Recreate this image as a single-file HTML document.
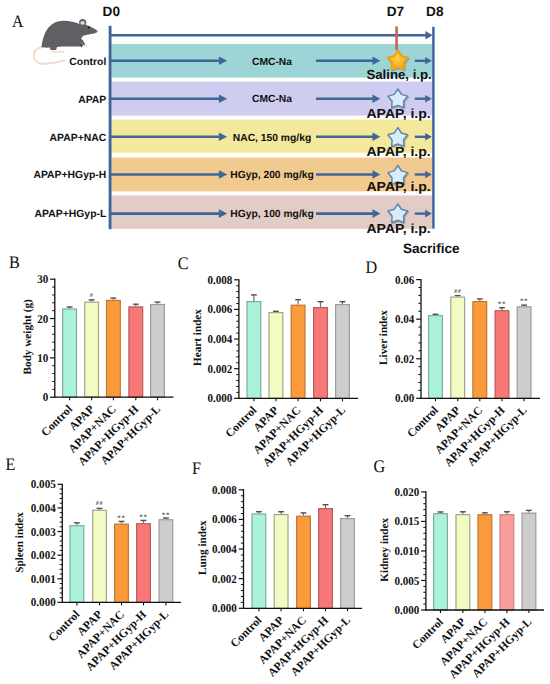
<!DOCTYPE html>
<html><head><meta charset="utf-8"><style>
html,body{margin:0;padding:0;background:#fff;}
svg{display:block;text-rendering:geometricPrecision;}
</style></head><body>
<svg width="550" height="684" viewBox="0 0 550 684">
<defs>
<radialGradient id="gold" cx="0.45" cy="0.4" r="0.65"><stop offset="0" stop-color="#fcd04a"/><stop offset="0.7" stop-color="#f7b126"/><stop offset="1" stop-color="#ee9a1a"/></radialGradient>
<filter id="sh" x="-30%" y="-30%" width="160%" height="160%"><feDropShadow dx="0.6" dy="0.8" stdDeviation="0.6" flood-color="#000" flood-opacity="0.35"/></filter>
</defs>
<rect width="550" height="684" fill="#fff"/>
<text transform="translate(11.9,27.4) scale(0.9,1)" font-family="Liberation Serif, serif" font-size="17.6" fill="#111">A</text>
<rect x="111.4" y="43.9" width="321.1" height="33.699999999999996" fill="#9dd4d6"/>
<rect x="111.4" y="81.5" width="321.1" height="34.099999999999994" fill="#cfcdef"/>
<rect x="111.4" y="119.6" width="321.1" height="33.099999999999994" fill="#f3e89b"/>
<rect x="111.4" y="157.5" width="321.1" height="33.900000000000006" fill="#f0ca8e"/>
<rect x="111.4" y="195.4" width="321.1" height="33.5" fill="#e3cbc6"/>
<line x1="110.1" y1="25.8" x2="110.1" y2="229.2" stroke="#3f6698" stroke-width="2.9"/>
<line x1="433.4" y1="26.8" x2="433.4" y2="228.6" stroke="#3f6698" stroke-width="2.5"/>
<line x1="111" y1="35.3" x2="426.40000000000003" y2="35.3" stroke="#3f6698" stroke-width="2.6"/><polygon points="425.40000000000003,31.099999999999998 432.6,35.3 425.40000000000003,39.5" fill="#3f6698"/>
<line x1="396.6" y1="26.4" x2="396.6" y2="50" stroke="#c8644e" stroke-width="2.6"/>
<g font-family="Liberation Sans, sans-serif" font-weight="bold" font-size="13.6" fill="#111">
<text x="102.6" y="15.6">D0</text><text x="386.8" y="15.9">D7</text><text x="426.1" y="15.9">D8</text>
<text x="402.9" y="252.9">Sacrifice</text>
</g>
<line x1="111" y1="60.8" x2="219.89999999999998" y2="60.8" stroke="#3f6698" stroke-width="2.6"/><polygon points="218.89999999999998,56.5 227.2,60.8 218.89999999999998,65.1" fill="#3f6698"/>
<line x1="316" y1="60.8" x2="373.5" y2="60.8" stroke="#3f6698" stroke-width="2.6"/><polygon points="372.5,56.5 380.3,60.8 372.5,65.1" fill="#3f6698"/>
<line x1="414.8" y1="60.8" x2="426.2" y2="60.8" stroke="#3f6698" stroke-width="2.4"/><polygon points="425.2,57.0 431.8,60.8 425.2,64.6" fill="#3f6698"/>
<text x="272" y="64.5" text-anchor="middle" font-family="Liberation Sans, sans-serif" font-weight="bold" font-size="10.3" fill="#111">CMC-Na</text>
<text x="106.3" y="64.6" text-anchor="end" font-family="Liberation Sans, sans-serif" font-weight="bold" font-size="10.4" fill="#111">Control</text>
<path d="M397.80,50.60 L401.37,55.99 L407.60,57.72 L403.57,62.78 L403.86,69.24 L397.80,66.97 L391.74,69.24 L392.03,62.78 L388.00,57.72 L394.23,55.99 Z" fill="url(#gold)" stroke="#eea21c" stroke-width="2.2" stroke-linejoin="round" filter="url(#sh)"/>
<text x="366.4" y="78.8" textLength="65.4" lengthAdjust="spacingAndGlyphs" font-family="Liberation Sans, sans-serif" font-weight="bold" font-size="13.2" fill="#111">Saline, i.p.</text>
<line x1="111" y1="98.7" x2="219.89999999999998" y2="98.7" stroke="#3f6698" stroke-width="2.6"/><polygon points="218.89999999999998,94.4 227.2,98.7 218.89999999999998,103.0" fill="#3f6698"/>
<line x1="316" y1="98.7" x2="373.5" y2="98.7" stroke="#3f6698" stroke-width="2.6"/><polygon points="372.5,94.4 380.3,98.7 372.5,103.0" fill="#3f6698"/>
<line x1="414.8" y1="98.7" x2="426.2" y2="98.7" stroke="#3f6698" stroke-width="2.4"/><polygon points="425.2,94.9 431.8,98.7 425.2,102.5" fill="#3f6698"/>
<text x="272" y="102.4" text-anchor="middle" font-family="Liberation Sans, sans-serif" font-weight="bold" font-size="10.3" fill="#111">CMC-Na</text>
<text x="106.3" y="102.5" text-anchor="end" font-family="Liberation Sans, sans-serif" font-weight="bold" font-size="10.4" fill="#111">APAP</text>
<path d="M397.80,89.00 L401.37,94.39 L407.60,96.12 L403.57,101.18 L403.86,107.64 L397.80,105.37 L391.74,107.64 L392.03,101.18 L388.00,96.12 L394.23,94.39 Z" fill="#d7eef9" stroke="#6487b0" stroke-width="1.5" stroke-linejoin="round" filter="url(#sh)"/>
<text x="366.4" y="117.9" textLength="64.4" lengthAdjust="spacingAndGlyphs" font-family="Liberation Sans, sans-serif" font-weight="bold" font-size="13.2" fill="#111">APAP, i.p.</text>
<line x1="111" y1="136.8" x2="219.89999999999998" y2="136.8" stroke="#3f6698" stroke-width="2.6"/><polygon points="218.89999999999998,132.5 227.2,136.8 218.89999999999998,141.10000000000002" fill="#3f6698"/>
<line x1="316" y1="136.8" x2="373.5" y2="136.8" stroke="#3f6698" stroke-width="2.6"/><polygon points="372.5,132.5 380.3,136.8 372.5,141.10000000000002" fill="#3f6698"/>
<line x1="414.8" y1="136.8" x2="426.2" y2="136.8" stroke="#3f6698" stroke-width="2.4"/><polygon points="425.2,133.0 431.8,136.8 425.2,140.60000000000002" fill="#3f6698"/>
<text x="272" y="140.5" text-anchor="middle" font-family="Liberation Sans, sans-serif" font-weight="bold" font-size="10.3" fill="#111">NAC, 150 mg/kg</text>
<text x="106.3" y="140.60000000000002" text-anchor="end" font-family="Liberation Sans, sans-serif" font-weight="bold" font-size="10.4" fill="#111">APAP+NAC</text>
<path d="M397.80,127.70 L401.37,133.09 L407.60,134.82 L403.57,139.88 L403.86,146.34 L397.80,144.07 L391.74,146.34 L392.03,139.88 L388.00,134.82 L394.23,133.09 Z" fill="#d7eef9" stroke="#6487b0" stroke-width="1.5" stroke-linejoin="round" filter="url(#sh)"/>
<text x="366.4" y="156.4" textLength="64.4" lengthAdjust="spacingAndGlyphs" font-family="Liberation Sans, sans-serif" font-weight="bold" font-size="13.2" fill="#111">APAP, i.p.</text>
<line x1="111" y1="174.5" x2="219.89999999999998" y2="174.5" stroke="#3f6698" stroke-width="2.6"/><polygon points="218.89999999999998,170.2 227.2,174.5 218.89999999999998,178.8" fill="#3f6698"/>
<line x1="316" y1="174.5" x2="373.5" y2="174.5" stroke="#3f6698" stroke-width="2.6"/><polygon points="372.5,170.2 380.3,174.5 372.5,178.8" fill="#3f6698"/>
<line x1="414.8" y1="174.5" x2="426.2" y2="174.5" stroke="#3f6698" stroke-width="2.4"/><polygon points="425.2,170.7 431.8,174.5 425.2,178.3" fill="#3f6698"/>
<text x="272" y="178.2" text-anchor="middle" font-family="Liberation Sans, sans-serif" font-weight="bold" font-size="10.3" fill="#111">HGyp, 200 mg/kg</text>
<text x="106.3" y="178.3" text-anchor="end" font-family="Liberation Sans, sans-serif" font-weight="bold" font-size="10.4" fill="#111">APAP+HGyp-H</text>
<path d="M397.80,165.50 L401.37,170.89 L407.60,172.62 L403.57,177.68 L403.86,184.14 L397.80,181.87 L391.74,184.14 L392.03,177.68 L388.00,172.62 L394.23,170.89 Z" fill="#d7eef9" stroke="#6487b0" stroke-width="1.5" stroke-linejoin="round" filter="url(#sh)"/>
<text x="366.4" y="191.2" textLength="64.4" lengthAdjust="spacingAndGlyphs" font-family="Liberation Sans, sans-serif" font-weight="bold" font-size="13.2" fill="#111">APAP, i.p.</text>
<line x1="111" y1="213.6" x2="219.89999999999998" y2="213.6" stroke="#3f6698" stroke-width="2.6"/><polygon points="218.89999999999998,209.29999999999998 227.2,213.6 218.89999999999998,217.9" fill="#3f6698"/>
<line x1="316" y1="213.6" x2="373.5" y2="213.6" stroke="#3f6698" stroke-width="2.6"/><polygon points="372.5,209.29999999999998 380.3,213.6 372.5,217.9" fill="#3f6698"/>
<line x1="414.8" y1="213.6" x2="426.2" y2="213.6" stroke="#3f6698" stroke-width="2.4"/><polygon points="425.2,209.79999999999998 431.8,213.6 425.2,217.4" fill="#3f6698"/>
<text x="272" y="217.29999999999998" text-anchor="middle" font-family="Liberation Sans, sans-serif" font-weight="bold" font-size="10.3" fill="#111">HGyp, 100 mg/kg</text>
<text x="106.3" y="217.4" text-anchor="end" font-family="Liberation Sans, sans-serif" font-weight="bold" font-size="10.4" fill="#111">APAP+HGyp-L</text>
<path d="M397.80,203.90 L401.37,209.29 L407.60,211.02 L403.57,216.08 L403.86,222.54 L397.80,220.27 L391.74,222.54 L392.03,216.08 L388.00,211.02 L394.23,209.29 Z" fill="#d7eef9" stroke="#6487b0" stroke-width="1.5" stroke-linejoin="round" filter="url(#sh)"/>
<text x="366.4" y="233.2" textLength="64.4" lengthAdjust="spacingAndGlyphs" font-family="Liberation Sans, sans-serif" font-weight="bold" font-size="13.2" fill="#111">APAP, i.p.</text>
<path d="M42,47.3 C36,48.4 33.6,52 33.8,56 C34,60.5 37.5,63.6 42,63.8 C50,64 57,62 64.8,60.6" fill="none" stroke="#f4dccd" stroke-width="2" stroke-linecap="round"/>
<path d="M52.2,51.7 L63.6,51.9" fill="none" stroke="#f4dccd" stroke-width="1.7" stroke-linecap="round"/>
<circle cx="82.7" cy="22.5" r="3.6" fill="#5f6063"/>
<path d="M41.5,47.2 C42.3,40.5 44,33 48.5,27.5 C52,23.3 57,21 63,20.8 C69,20.7 75,22 80,24.2 C83,24.8 86,24.4 88,25.6 C91.5,27.2 95.5,29.2 97.8,31 C97.5,32.3 96.5,32.8 95,33.2 C92,34 88,34.5 85,35.2 C83,35.8 81.8,37 81.3,38.8 C81,40.5 81.5,42 82.5,43.5 L84,45 L82,46.6 C78,46.3 70,46.3 62,46.6 L57,47 L56.2,49.9 L50.4,49.9 L50,47.6 C47,47.8 44,47.6 41.5,47.2 Z" fill="#5f6063"/>
<path d="M81.4,40 L84.3,44.2" stroke="#3f4042" stroke-width="1.4" stroke-linecap="round"/>
<path d="M80.6,44.8 L81.6,46.6" stroke="#3f4042" stroke-width="1.2" stroke-linecap="round"/>
<ellipse cx="85.7" cy="46.1" rx="1.5" ry="1.4" fill="#f3ddd0"/>
<ellipse cx="82.6" cy="22.8" rx="2.2" ry="1.9" fill="#ead8c9"/>
<ellipse cx="88.8" cy="27.6" rx="0.95" ry="1.05" fill="#1a1a1a"/>
<circle cx="97.6" cy="31.3" r="0.8" fill="#e9cfc6"/>
<text transform="translate(8.9,267.9) scale(0.92,1)" font-family="Liberation Serif, serif" font-size="17.6" fill="#111">B</text>
<line x1="69.60" y1="308.39" x2="69.60" y2="306.69" stroke="#707070" stroke-width="1.2"/>
<line x1="66.70" y1="306.99" x2="72.50" y2="306.99" stroke="#505050" stroke-width="1.4"/>
<rect x="62.70" y="308.99" width="13.80" height="88.21" fill="#abf2dc" stroke="#7eac9c" stroke-width="1.2"/>
<line x1="91.60" y1="301.58" x2="91.60" y2="299.57" stroke="#707070" stroke-width="1.2"/>
<line x1="88.70" y1="299.87" x2="94.50" y2="299.87" stroke="#505050" stroke-width="1.4"/>
<rect x="84.70" y="302.18" width="13.80" height="95.02" fill="#f2fbc2" stroke="#a3a688" stroke-width="1.2"/>
<text x="91.60" y="297.40" text-anchor="middle" font-family="Liberation Serif, serif" font-weight="bold" font-size="6.2" letter-spacing="0.7" fill="#474747">#</text>
<line x1="113.40" y1="299.81" x2="113.40" y2="297.80" stroke="#707070" stroke-width="1.2"/>
<line x1="110.50" y1="298.10" x2="116.30" y2="298.10" stroke="#505050" stroke-width="1.4"/>
<rect x="106.50" y="300.41" width="13.80" height="96.79" fill="#fa9a3a" stroke="#c07832" stroke-width="1.2"/>
<line x1="135.80" y1="306.30" x2="135.80" y2="303.90" stroke="#707070" stroke-width="1.2"/>
<line x1="132.90" y1="304.20" x2="138.70" y2="304.20" stroke="#505050" stroke-width="1.4"/>
<rect x="128.90" y="306.90" width="13.80" height="90.30" fill="#f87777" stroke="#bc5c5c" stroke-width="1.2"/>
<line x1="157.50" y1="303.90" x2="157.50" y2="301.82" stroke="#707070" stroke-width="1.2"/>
<line x1="154.60" y1="302.12" x2="160.40" y2="302.12" stroke="#505050" stroke-width="1.4"/>
<rect x="150.60" y="304.50" width="13.80" height="92.70" fill="#cdcdcd" stroke="#9c9c9c" stroke-width="1.2"/>
<line x1="54.8" y1="278.59999999999997" x2="54.8" y2="397.8" stroke="#111" stroke-width="1.3"/>
<line x1="54.199999999999996" y1="397.2" x2="173.5" y2="397.2" stroke="#111" stroke-width="1.3"/>
<line x1="50.0" y1="397.20" x2="54.8" y2="397.20" stroke="#111" stroke-width="1.2"/>
<text transform="translate(48.20,401.25) scale(0.98,1.05)" text-anchor="end" font-family="Liberation Serif, serif" font-weight="bold" font-size="11.3" fill="#111">0</text>
<line x1="52.199999999999996" y1="389.33" x2="54.8" y2="389.33" stroke="#111" stroke-width="1"/>
<line x1="52.199999999999996" y1="381.47" x2="54.8" y2="381.47" stroke="#111" stroke-width="1"/>
<line x1="52.199999999999996" y1="373.60" x2="54.8" y2="373.60" stroke="#111" stroke-width="1"/>
<line x1="52.199999999999996" y1="365.73" x2="54.8" y2="365.73" stroke="#111" stroke-width="1"/>
<line x1="50.0" y1="357.87" x2="54.8" y2="357.87" stroke="#111" stroke-width="1.2"/>
<text transform="translate(48.20,361.92) scale(0.98,1.05)" text-anchor="end" font-family="Liberation Serif, serif" font-weight="bold" font-size="11.3" fill="#111">10</text>
<line x1="52.199999999999996" y1="350.00" x2="54.8" y2="350.00" stroke="#111" stroke-width="1"/>
<line x1="52.199999999999996" y1="342.13" x2="54.8" y2="342.13" stroke="#111" stroke-width="1"/>
<line x1="52.199999999999996" y1="334.27" x2="54.8" y2="334.27" stroke="#111" stroke-width="1"/>
<line x1="52.199999999999996" y1="326.40" x2="54.8" y2="326.40" stroke="#111" stroke-width="1"/>
<line x1="50.0" y1="318.53" x2="54.8" y2="318.53" stroke="#111" stroke-width="1.2"/>
<text transform="translate(48.20,322.58) scale(0.98,1.05)" text-anchor="end" font-family="Liberation Serif, serif" font-weight="bold" font-size="11.3" fill="#111">20</text>
<line x1="52.199999999999996" y1="310.67" x2="54.8" y2="310.67" stroke="#111" stroke-width="1"/>
<line x1="52.199999999999996" y1="302.80" x2="54.8" y2="302.80" stroke="#111" stroke-width="1"/>
<line x1="52.199999999999996" y1="294.93" x2="54.8" y2="294.93" stroke="#111" stroke-width="1"/>
<line x1="52.199999999999996" y1="287.07" x2="54.8" y2="287.07" stroke="#111" stroke-width="1"/>
<line x1="50.0" y1="279.20" x2="54.8" y2="279.20" stroke="#111" stroke-width="1.2"/>
<text transform="translate(48.20,283.25) scale(0.98,1.05)" text-anchor="end" font-family="Liberation Serif, serif" font-weight="bold" font-size="11.3" fill="#111">30</text>
<line x1="69.60" y1="397.2" x2="69.60" y2="400.2" stroke="#111" stroke-width="1.1"/>
<text transform="translate(73.00,409.80) rotate(-45)" text-anchor="end" font-family="Liberation Serif, serif" font-weight="bold" font-size="11.6" fill="#111">Control</text>
<line x1="91.60" y1="397.2" x2="91.60" y2="400.2" stroke="#111" stroke-width="1.1"/>
<text transform="translate(95.00,409.80) rotate(-45)" text-anchor="end" font-family="Liberation Serif, serif" font-weight="bold" font-size="11.6" fill="#111">APAP</text>
<line x1="113.40" y1="397.2" x2="113.40" y2="400.2" stroke="#111" stroke-width="1.1"/>
<text transform="translate(116.80,409.80) rotate(-45)" text-anchor="end" font-family="Liberation Serif, serif" font-weight="bold" font-size="11.6" fill="#111">APAP+NAC</text>
<line x1="135.80" y1="397.2" x2="135.80" y2="400.2" stroke="#111" stroke-width="1.1"/>
<text transform="translate(139.20,409.80) rotate(-45)" text-anchor="end" font-family="Liberation Serif, serif" font-weight="bold" font-size="11.6" fill="#111">APAP+HGyp-H</text>
<line x1="157.50" y1="397.2" x2="157.50" y2="400.2" stroke="#111" stroke-width="1.1"/>
<text transform="translate(160.90,409.80) rotate(-45)" text-anchor="end" font-family="Liberation Serif, serif" font-weight="bold" font-size="11.6" fill="#111">APAP+HGyp-L</text>
<text transform="translate(31.0,336.8) rotate(-90)" text-anchor="middle" font-family="Liberation Serif, serif" font-weight="bold" font-size="11.2" fill="#111">Body weight (g)</text>
<text transform="translate(177.8,269.0) scale(0.92,1)" font-family="Liberation Serif, serif" font-size="17.6" fill="#111">C</text>
<line x1="253.90" y1="301.00" x2="253.90" y2="294.60" stroke="#707070" stroke-width="1.2"/>
<line x1="251.00" y1="294.90" x2="256.80" y2="294.90" stroke="#505050" stroke-width="1.4"/>
<rect x="247.00" y="301.60" width="13.80" height="96.70" fill="#abf2dc" stroke="#7eac9c" stroke-width="1.2"/>
<line x1="275.90" y1="312.00" x2="275.90" y2="311.00" stroke="#707070" stroke-width="1.2"/>
<line x1="273.00" y1="311.30" x2="278.80" y2="311.30" stroke="#505050" stroke-width="1.4"/>
<rect x="269.00" y="312.60" width="13.80" height="85.70" fill="#f2fbc2" stroke="#a3a688" stroke-width="1.2"/>
<line x1="298.10" y1="304.60" x2="298.10" y2="299.40" stroke="#707070" stroke-width="1.2"/>
<line x1="295.20" y1="299.70" x2="301.00" y2="299.70" stroke="#505050" stroke-width="1.4"/>
<rect x="291.20" y="305.20" width="13.80" height="93.10" fill="#fa9a3a" stroke="#c07832" stroke-width="1.2"/>
<line x1="320.50" y1="307.00" x2="320.50" y2="301.40" stroke="#707070" stroke-width="1.2"/>
<line x1="317.60" y1="301.70" x2="323.40" y2="301.70" stroke="#505050" stroke-width="1.4"/>
<rect x="313.60" y="307.60" width="13.80" height="90.70" fill="#f87777" stroke="#bc5c5c" stroke-width="1.2"/>
<line x1="342.50" y1="304.00" x2="342.50" y2="301.40" stroke="#707070" stroke-width="1.2"/>
<line x1="339.60" y1="301.70" x2="345.40" y2="301.70" stroke="#505050" stroke-width="1.4"/>
<rect x="335.60" y="304.60" width="13.80" height="93.70" fill="#cdcdcd" stroke="#9c9c9c" stroke-width="1.2"/>
<line x1="238.9" y1="279.2" x2="238.9" y2="398.90000000000003" stroke="#111" stroke-width="1.3"/>
<line x1="238.3" y1="398.3" x2="358" y2="398.3" stroke="#111" stroke-width="1.3"/>
<line x1="234.1" y1="398.30" x2="238.9" y2="398.30" stroke="#111" stroke-width="1.2"/>
<text transform="translate(232.30,402.35) scale(0.98,1.05)" text-anchor="end" font-family="Liberation Serif, serif" font-weight="bold" font-size="11.3" fill="#111">0.000</text>
<line x1="236.3" y1="392.38" x2="238.9" y2="392.38" stroke="#111" stroke-width="1"/>
<line x1="236.3" y1="386.45" x2="238.9" y2="386.45" stroke="#111" stroke-width="1"/>
<line x1="236.3" y1="380.53" x2="238.9" y2="380.53" stroke="#111" stroke-width="1"/>
<line x1="236.3" y1="374.60" x2="238.9" y2="374.60" stroke="#111" stroke-width="1"/>
<line x1="234.1" y1="368.68" x2="238.9" y2="368.68" stroke="#111" stroke-width="1.2"/>
<text transform="translate(232.30,372.73) scale(0.98,1.05)" text-anchor="end" font-family="Liberation Serif, serif" font-weight="bold" font-size="11.3" fill="#111">0.002</text>
<line x1="236.3" y1="362.75" x2="238.9" y2="362.75" stroke="#111" stroke-width="1"/>
<line x1="236.3" y1="356.82" x2="238.9" y2="356.82" stroke="#111" stroke-width="1"/>
<line x1="236.3" y1="350.90" x2="238.9" y2="350.90" stroke="#111" stroke-width="1"/>
<line x1="236.3" y1="344.98" x2="238.9" y2="344.98" stroke="#111" stroke-width="1"/>
<line x1="234.1" y1="339.05" x2="238.9" y2="339.05" stroke="#111" stroke-width="1.2"/>
<text transform="translate(232.30,343.10) scale(0.98,1.05)" text-anchor="end" font-family="Liberation Serif, serif" font-weight="bold" font-size="11.3" fill="#111">0.004</text>
<line x1="236.3" y1="333.12" x2="238.9" y2="333.12" stroke="#111" stroke-width="1"/>
<line x1="236.3" y1="327.20" x2="238.9" y2="327.20" stroke="#111" stroke-width="1"/>
<line x1="236.3" y1="321.28" x2="238.9" y2="321.28" stroke="#111" stroke-width="1"/>
<line x1="236.3" y1="315.35" x2="238.9" y2="315.35" stroke="#111" stroke-width="1"/>
<line x1="234.1" y1="309.43" x2="238.9" y2="309.43" stroke="#111" stroke-width="1.2"/>
<text transform="translate(232.30,313.48) scale(0.98,1.05)" text-anchor="end" font-family="Liberation Serif, serif" font-weight="bold" font-size="11.3" fill="#111">0.006</text>
<line x1="236.3" y1="303.50" x2="238.9" y2="303.50" stroke="#111" stroke-width="1"/>
<line x1="236.3" y1="297.57" x2="238.9" y2="297.57" stroke="#111" stroke-width="1"/>
<line x1="236.3" y1="291.65" x2="238.9" y2="291.65" stroke="#111" stroke-width="1"/>
<line x1="236.3" y1="285.73" x2="238.9" y2="285.73" stroke="#111" stroke-width="1"/>
<line x1="234.1" y1="279.80" x2="238.9" y2="279.80" stroke="#111" stroke-width="1.2"/>
<text transform="translate(232.30,283.85) scale(0.98,1.05)" text-anchor="end" font-family="Liberation Serif, serif" font-weight="bold" font-size="11.3" fill="#111">0.008</text>
<line x1="253.90" y1="398.3" x2="253.90" y2="401.3" stroke="#111" stroke-width="1.1"/>
<text transform="translate(257.30,410.90) rotate(-45)" text-anchor="end" font-family="Liberation Serif, serif" font-weight="bold" font-size="11.6" fill="#111">Control</text>
<line x1="275.90" y1="398.3" x2="275.90" y2="401.3" stroke="#111" stroke-width="1.1"/>
<text transform="translate(279.30,410.90) rotate(-45)" text-anchor="end" font-family="Liberation Serif, serif" font-weight="bold" font-size="11.6" fill="#111">APAP</text>
<line x1="298.10" y1="398.3" x2="298.10" y2="401.3" stroke="#111" stroke-width="1.1"/>
<text transform="translate(301.50,410.90) rotate(-45)" text-anchor="end" font-family="Liberation Serif, serif" font-weight="bold" font-size="11.6" fill="#111">APAP+NAC</text>
<line x1="320.50" y1="398.3" x2="320.50" y2="401.3" stroke="#111" stroke-width="1.1"/>
<text transform="translate(323.90,410.90) rotate(-45)" text-anchor="end" font-family="Liberation Serif, serif" font-weight="bold" font-size="11.6" fill="#111">APAP+HGyp-H</text>
<line x1="342.50" y1="398.3" x2="342.50" y2="401.3" stroke="#111" stroke-width="1.1"/>
<text transform="translate(345.90,410.90) rotate(-45)" text-anchor="end" font-family="Liberation Serif, serif" font-weight="bold" font-size="11.6" fill="#111">APAP+HGyp-L</text>
<text transform="translate(201.0,337.5) rotate(-90)" text-anchor="middle" font-family="Liberation Serif, serif" font-weight="bold" font-size="11.2" fill="#111">Heart index</text>
<text transform="translate(365.6,272.6) scale(0.92,1)" font-family="Liberation Serif, serif" font-size="17.6" fill="#111">D</text>
<line x1="435.50" y1="315.09" x2="435.50" y2="313.98" stroke="#707070" stroke-width="1.2"/>
<line x1="432.60" y1="314.28" x2="438.40" y2="314.28" stroke="#505050" stroke-width="1.4"/>
<rect x="428.60" y="315.69" width="13.80" height="82.61" fill="#abf2dc" stroke="#7eac9c" stroke-width="1.2"/>
<line x1="457.70" y1="296.49" x2="457.70" y2="295.31" stroke="#707070" stroke-width="1.2"/>
<line x1="454.80" y1="295.61" x2="460.60" y2="295.61" stroke="#505050" stroke-width="1.4"/>
<rect x="450.80" y="297.09" width="13.80" height="101.21" fill="#f2fbc2" stroke="#a3a688" stroke-width="1.2"/>
<text x="457.70" y="292.50" text-anchor="middle" font-family="Liberation Serif, serif" font-weight="bold" font-size="6.2" letter-spacing="0.7" fill="#474747">##</text>
<line x1="479.80" y1="301.01" x2="479.80" y2="298.63" stroke="#707070" stroke-width="1.2"/>
<line x1="476.90" y1="298.93" x2="482.70" y2="298.93" stroke="#505050" stroke-width="1.4"/>
<rect x="472.90" y="301.61" width="13.80" height="96.69" fill="#fa9a3a" stroke="#c07832" stroke-width="1.2"/>
<line x1="502.00" y1="310.11" x2="502.00" y2="307.42" stroke="#707070" stroke-width="1.2"/>
<line x1="499.10" y1="307.72" x2="504.90" y2="307.72" stroke="#505050" stroke-width="1.4"/>
<rect x="495.10" y="310.71" width="13.80" height="87.59" fill="#f87777" stroke="#bc5c5c" stroke-width="1.2"/>
<text x="502.00" y="305.70" text-anchor="middle" font-family="Liberation Serif, serif" font-weight="bold" font-size="7" letter-spacing="0.7" fill="#5c5c5c">**</text>
<line x1="524.10" y1="306.21" x2="524.10" y2="304.82" stroke="#707070" stroke-width="1.2"/>
<line x1="521.20" y1="305.12" x2="527.00" y2="305.12" stroke="#505050" stroke-width="1.4"/>
<rect x="517.20" y="306.81" width="13.80" height="91.49" fill="#cdcdcd" stroke="#9c9c9c" stroke-width="1.2"/>
<text x="524.10" y="303.40" text-anchor="middle" font-family="Liberation Serif, serif" font-weight="bold" font-size="7" letter-spacing="0.7" fill="#5c5c5c">**</text>
<line x1="421.0" y1="279.0" x2="421.0" y2="398.90000000000003" stroke="#111" stroke-width="1.3"/>
<line x1="420.4" y1="398.3" x2="540" y2="398.3" stroke="#111" stroke-width="1.3"/>
<line x1="416.2" y1="398.30" x2="421.0" y2="398.30" stroke="#111" stroke-width="1.2"/>
<text transform="translate(414.40,402.35) scale(0.98,1.05)" text-anchor="end" font-family="Liberation Serif, serif" font-weight="bold" font-size="11.3" fill="#111">0.00</text>
<line x1="418.4" y1="390.39" x2="421.0" y2="390.39" stroke="#111" stroke-width="1"/>
<line x1="418.4" y1="382.47" x2="421.0" y2="382.47" stroke="#111" stroke-width="1"/>
<line x1="418.4" y1="374.56" x2="421.0" y2="374.56" stroke="#111" stroke-width="1"/>
<line x1="418.4" y1="366.65" x2="421.0" y2="366.65" stroke="#111" stroke-width="1"/>
<line x1="416.2" y1="358.73" x2="421.0" y2="358.73" stroke="#111" stroke-width="1.2"/>
<text transform="translate(414.40,362.78) scale(0.98,1.05)" text-anchor="end" font-family="Liberation Serif, serif" font-weight="bold" font-size="11.3" fill="#111">0.02</text>
<line x1="418.4" y1="350.82" x2="421.0" y2="350.82" stroke="#111" stroke-width="1"/>
<line x1="418.4" y1="342.91" x2="421.0" y2="342.91" stroke="#111" stroke-width="1"/>
<line x1="418.4" y1="334.99" x2="421.0" y2="334.99" stroke="#111" stroke-width="1"/>
<line x1="418.4" y1="327.08" x2="421.0" y2="327.08" stroke="#111" stroke-width="1"/>
<line x1="416.2" y1="319.17" x2="421.0" y2="319.17" stroke="#111" stroke-width="1.2"/>
<text transform="translate(414.40,323.22) scale(0.98,1.05)" text-anchor="end" font-family="Liberation Serif, serif" font-weight="bold" font-size="11.3" fill="#111">0.04</text>
<line x1="418.4" y1="311.25" x2="421.0" y2="311.25" stroke="#111" stroke-width="1"/>
<line x1="418.4" y1="303.34" x2="421.0" y2="303.34" stroke="#111" stroke-width="1"/>
<line x1="418.4" y1="295.43" x2="421.0" y2="295.43" stroke="#111" stroke-width="1"/>
<line x1="418.4" y1="287.51" x2="421.0" y2="287.51" stroke="#111" stroke-width="1"/>
<line x1="416.2" y1="279.60" x2="421.0" y2="279.60" stroke="#111" stroke-width="1.2"/>
<text transform="translate(414.40,283.65) scale(0.98,1.05)" text-anchor="end" font-family="Liberation Serif, serif" font-weight="bold" font-size="11.3" fill="#111">0.06</text>
<line x1="435.50" y1="398.3" x2="435.50" y2="401.3" stroke="#111" stroke-width="1.1"/>
<text transform="translate(438.90,410.90) rotate(-45)" text-anchor="end" font-family="Liberation Serif, serif" font-weight="bold" font-size="11.6" fill="#111">Control</text>
<line x1="457.70" y1="398.3" x2="457.70" y2="401.3" stroke="#111" stroke-width="1.1"/>
<text transform="translate(461.10,410.90) rotate(-45)" text-anchor="end" font-family="Liberation Serif, serif" font-weight="bold" font-size="11.6" fill="#111">APAP</text>
<line x1="479.80" y1="398.3" x2="479.80" y2="401.3" stroke="#111" stroke-width="1.1"/>
<text transform="translate(483.20,410.90) rotate(-45)" text-anchor="end" font-family="Liberation Serif, serif" font-weight="bold" font-size="11.6" fill="#111">APAP+NAC</text>
<line x1="502.00" y1="398.3" x2="502.00" y2="401.3" stroke="#111" stroke-width="1.1"/>
<text transform="translate(505.40,410.90) rotate(-45)" text-anchor="end" font-family="Liberation Serif, serif" font-weight="bold" font-size="11.6" fill="#111">APAP+HGyp-H</text>
<line x1="524.10" y1="398.3" x2="524.10" y2="401.3" stroke="#111" stroke-width="1.1"/>
<text transform="translate(527.50,410.90) rotate(-45)" text-anchor="end" font-family="Liberation Serif, serif" font-weight="bold" font-size="11.6" fill="#111">APAP+HGyp-L</text>
<text transform="translate(387.4,337.5) rotate(-90)" text-anchor="middle" font-family="Liberation Serif, serif" font-weight="bold" font-size="11.2" fill="#111">Liver index</text>
<text transform="translate(5.4,470.0) scale(0.92,1)" font-family="Liberation Serif, serif" font-size="17.6" fill="#111">E</text>
<line x1="76.90" y1="525.14" x2="76.90" y2="522.54" stroke="#707070" stroke-width="1.2"/>
<line x1="74.00" y1="522.84" x2="79.80" y2="522.84" stroke="#505050" stroke-width="1.4"/>
<rect x="70.00" y="525.74" width="13.80" height="76.66" fill="#abf2dc" stroke="#7eac9c" stroke-width="1.2"/>
<line x1="99.50" y1="509.69" x2="99.50" y2="508.09" stroke="#707070" stroke-width="1.2"/>
<line x1="96.60" y1="508.39" x2="102.40" y2="508.39" stroke="#505050" stroke-width="1.4"/>
<rect x="92.60" y="510.29" width="13.80" height="92.11" fill="#f2fbc2" stroke="#a3a688" stroke-width="1.2"/>
<text x="99.50" y="504.90" text-anchor="middle" font-family="Liberation Serif, serif" font-weight="bold" font-size="6.2" letter-spacing="0.7" fill="#474747">##</text>
<line x1="121.50" y1="523.53" x2="121.50" y2="521.12" stroke="#707070" stroke-width="1.2"/>
<line x1="118.60" y1="521.42" x2="124.40" y2="521.42" stroke="#505050" stroke-width="1.4"/>
<rect x="114.60" y="524.13" width="13.80" height="78.27" fill="#fa9a3a" stroke="#c07832" stroke-width="1.2"/>
<text x="121.50" y="520.20" text-anchor="middle" font-family="Liberation Serif, serif" font-weight="bold" font-size="7" letter-spacing="0.7" fill="#5c5c5c">**</text>
<line x1="143.50" y1="523.13" x2="143.50" y2="520.13" stroke="#707070" stroke-width="1.2"/>
<line x1="140.60" y1="520.43" x2="146.40" y2="520.43" stroke="#505050" stroke-width="1.4"/>
<rect x="136.60" y="523.73" width="13.80" height="78.67" fill="#f87777" stroke="#bc5c5c" stroke-width="1.2"/>
<text x="143.50" y="519.20" text-anchor="middle" font-family="Liberation Serif, serif" font-weight="bold" font-size="7" letter-spacing="0.7" fill="#5c5c5c">**</text>
<line x1="165.90" y1="519.12" x2="165.90" y2="517.70" stroke="#707070" stroke-width="1.2"/>
<line x1="163.00" y1="518.00" x2="168.80" y2="518.00" stroke="#505050" stroke-width="1.4"/>
<rect x="159.00" y="519.72" width="13.80" height="82.68" fill="#cdcdcd" stroke="#9c9c9c" stroke-width="1.2"/>
<text x="165.90" y="516.80" text-anchor="middle" font-family="Liberation Serif, serif" font-weight="bold" font-size="7" letter-spacing="0.7" fill="#5c5c5c">**</text>
<line x1="62.3" y1="483.7" x2="62.3" y2="603.0" stroke="#111" stroke-width="1.3"/>
<line x1="61.699999999999996" y1="602.4" x2="181" y2="602.4" stroke="#111" stroke-width="1.3"/>
<line x1="57.5" y1="602.40" x2="62.3" y2="602.40" stroke="#111" stroke-width="1.2"/>
<text transform="translate(55.70,606.45) scale(0.98,1.05)" text-anchor="end" font-family="Liberation Serif, serif" font-weight="bold" font-size="11.3" fill="#111">0.000</text>
<line x1="59.699999999999996" y1="597.68" x2="62.3" y2="597.68" stroke="#111" stroke-width="1"/>
<line x1="59.699999999999996" y1="592.95" x2="62.3" y2="592.95" stroke="#111" stroke-width="1"/>
<line x1="59.699999999999996" y1="588.23" x2="62.3" y2="588.23" stroke="#111" stroke-width="1"/>
<line x1="59.699999999999996" y1="583.50" x2="62.3" y2="583.50" stroke="#111" stroke-width="1"/>
<line x1="57.5" y1="578.78" x2="62.3" y2="578.78" stroke="#111" stroke-width="1.2"/>
<text transform="translate(55.70,582.83) scale(0.98,1.05)" text-anchor="end" font-family="Liberation Serif, serif" font-weight="bold" font-size="11.3" fill="#111">0.001</text>
<line x1="59.699999999999996" y1="574.06" x2="62.3" y2="574.06" stroke="#111" stroke-width="1"/>
<line x1="59.699999999999996" y1="569.33" x2="62.3" y2="569.33" stroke="#111" stroke-width="1"/>
<line x1="59.699999999999996" y1="564.61" x2="62.3" y2="564.61" stroke="#111" stroke-width="1"/>
<line x1="59.699999999999996" y1="559.88" x2="62.3" y2="559.88" stroke="#111" stroke-width="1"/>
<line x1="57.5" y1="555.16" x2="62.3" y2="555.16" stroke="#111" stroke-width="1.2"/>
<text transform="translate(55.70,559.21) scale(0.98,1.05)" text-anchor="end" font-family="Liberation Serif, serif" font-weight="bold" font-size="11.3" fill="#111">0.002</text>
<line x1="59.699999999999996" y1="550.44" x2="62.3" y2="550.44" stroke="#111" stroke-width="1"/>
<line x1="59.699999999999996" y1="545.71" x2="62.3" y2="545.71" stroke="#111" stroke-width="1"/>
<line x1="59.699999999999996" y1="540.99" x2="62.3" y2="540.99" stroke="#111" stroke-width="1"/>
<line x1="59.699999999999996" y1="536.26" x2="62.3" y2="536.26" stroke="#111" stroke-width="1"/>
<line x1="57.5" y1="531.54" x2="62.3" y2="531.54" stroke="#111" stroke-width="1.2"/>
<text transform="translate(55.70,535.59) scale(0.98,1.05)" text-anchor="end" font-family="Liberation Serif, serif" font-weight="bold" font-size="11.3" fill="#111">0.003</text>
<line x1="59.699999999999996" y1="526.82" x2="62.3" y2="526.82" stroke="#111" stroke-width="1"/>
<line x1="59.699999999999996" y1="522.09" x2="62.3" y2="522.09" stroke="#111" stroke-width="1"/>
<line x1="59.699999999999996" y1="517.37" x2="62.3" y2="517.37" stroke="#111" stroke-width="1"/>
<line x1="59.699999999999996" y1="512.64" x2="62.3" y2="512.64" stroke="#111" stroke-width="1"/>
<line x1="57.5" y1="507.92" x2="62.3" y2="507.92" stroke="#111" stroke-width="1.2"/>
<text transform="translate(55.70,511.97) scale(0.98,1.05)" text-anchor="end" font-family="Liberation Serif, serif" font-weight="bold" font-size="11.3" fill="#111">0.004</text>
<line x1="59.699999999999996" y1="503.20" x2="62.3" y2="503.20" stroke="#111" stroke-width="1"/>
<line x1="59.699999999999996" y1="498.47" x2="62.3" y2="498.47" stroke="#111" stroke-width="1"/>
<line x1="59.699999999999996" y1="493.75" x2="62.3" y2="493.75" stroke="#111" stroke-width="1"/>
<line x1="59.699999999999996" y1="489.02" x2="62.3" y2="489.02" stroke="#111" stroke-width="1"/>
<line x1="57.5" y1="484.30" x2="62.3" y2="484.30" stroke="#111" stroke-width="1.2"/>
<text transform="translate(55.70,488.35) scale(0.98,1.05)" text-anchor="end" font-family="Liberation Serif, serif" font-weight="bold" font-size="11.3" fill="#111">0.005</text>
<line x1="76.90" y1="602.4" x2="76.90" y2="605.4" stroke="#111" stroke-width="1.1"/>
<text transform="translate(80.30,615.00) rotate(-45)" text-anchor="end" font-family="Liberation Serif, serif" font-weight="bold" font-size="11.6" fill="#111">Control</text>
<line x1="99.50" y1="602.4" x2="99.50" y2="605.4" stroke="#111" stroke-width="1.1"/>
<text transform="translate(102.90,615.00) rotate(-45)" text-anchor="end" font-family="Liberation Serif, serif" font-weight="bold" font-size="11.6" fill="#111">APAP</text>
<line x1="121.50" y1="602.4" x2="121.50" y2="605.4" stroke="#111" stroke-width="1.1"/>
<text transform="translate(124.90,615.00) rotate(-45)" text-anchor="end" font-family="Liberation Serif, serif" font-weight="bold" font-size="11.6" fill="#111">APAP+NAC</text>
<line x1="143.50" y1="602.4" x2="143.50" y2="605.4" stroke="#111" stroke-width="1.1"/>
<text transform="translate(146.90,615.00) rotate(-45)" text-anchor="end" font-family="Liberation Serif, serif" font-weight="bold" font-size="11.6" fill="#111">APAP+HGyp-H</text>
<line x1="165.90" y1="602.4" x2="165.90" y2="605.4" stroke="#111" stroke-width="1.1"/>
<text transform="translate(169.30,615.00) rotate(-45)" text-anchor="end" font-family="Liberation Serif, serif" font-weight="bold" font-size="11.6" fill="#111">APAP+HGyp-L</text>
<text transform="translate(23.0,542.4) rotate(-90)" text-anchor="middle" font-family="Liberation Serif, serif" font-weight="bold" font-size="11.2" fill="#111">Spleen index</text>
<text transform="translate(191.9,473.8) scale(0.92,1)" font-family="Liberation Serif, serif" font-size="17.6" fill="#111">F</text>
<line x1="258.90" y1="513.40" x2="258.90" y2="511.40" stroke="#707070" stroke-width="1.2"/>
<line x1="256.00" y1="511.70" x2="261.80" y2="511.70" stroke="#505050" stroke-width="1.4"/>
<rect x="252.00" y="514.00" width="13.80" height="94.30" fill="#abf2dc" stroke="#7eac9c" stroke-width="1.2"/>
<line x1="281.10" y1="514.00" x2="281.10" y2="511.40" stroke="#707070" stroke-width="1.2"/>
<line x1="278.20" y1="511.70" x2="284.00" y2="511.70" stroke="#505050" stroke-width="1.4"/>
<rect x="274.20" y="514.60" width="13.80" height="93.70" fill="#f2fbc2" stroke="#a3a688" stroke-width="1.2"/>
<line x1="303.50" y1="515.60" x2="303.50" y2="512.60" stroke="#707070" stroke-width="1.2"/>
<line x1="300.60" y1="512.90" x2="306.40" y2="512.90" stroke="#505050" stroke-width="1.4"/>
<rect x="296.60" y="516.20" width="13.80" height="92.10" fill="#fa9a3a" stroke="#c07832" stroke-width="1.2"/>
<line x1="325.50" y1="508.00" x2="325.50" y2="504.41" stroke="#707070" stroke-width="1.2"/>
<line x1="322.60" y1="504.71" x2="328.40" y2="504.71" stroke="#505050" stroke-width="1.4"/>
<rect x="318.60" y="508.60" width="13.80" height="99.70" fill="#f87777" stroke="#bc5c5c" stroke-width="1.2"/>
<line x1="347.50" y1="518.00" x2="347.50" y2="515.40" stroke="#707070" stroke-width="1.2"/>
<line x1="344.60" y1="515.70" x2="350.40" y2="515.70" stroke="#505050" stroke-width="1.4"/>
<rect x="340.60" y="518.60" width="13.80" height="89.70" fill="#cdcdcd" stroke="#9c9c9c" stroke-width="1.2"/>
<line x1="243.5" y1="489.2" x2="243.5" y2="608.9" stroke="#111" stroke-width="1.3"/>
<line x1="242.9" y1="608.3" x2="362" y2="608.3" stroke="#111" stroke-width="1.3"/>
<line x1="238.7" y1="608.30" x2="243.5" y2="608.30" stroke="#111" stroke-width="1.2"/>
<text transform="translate(236.90,612.35) scale(0.98,1.05)" text-anchor="end" font-family="Liberation Serif, serif" font-weight="bold" font-size="11.3" fill="#111">0.000</text>
<line x1="240.9" y1="602.38" x2="243.5" y2="602.38" stroke="#111" stroke-width="1"/>
<line x1="240.9" y1="596.45" x2="243.5" y2="596.45" stroke="#111" stroke-width="1"/>
<line x1="240.9" y1="590.52" x2="243.5" y2="590.52" stroke="#111" stroke-width="1"/>
<line x1="240.9" y1="584.60" x2="243.5" y2="584.60" stroke="#111" stroke-width="1"/>
<line x1="238.7" y1="578.67" x2="243.5" y2="578.67" stroke="#111" stroke-width="1.2"/>
<text transform="translate(236.90,582.72) scale(0.98,1.05)" text-anchor="end" font-family="Liberation Serif, serif" font-weight="bold" font-size="11.3" fill="#111">0.002</text>
<line x1="240.9" y1="572.75" x2="243.5" y2="572.75" stroke="#111" stroke-width="1"/>
<line x1="240.9" y1="566.82" x2="243.5" y2="566.82" stroke="#111" stroke-width="1"/>
<line x1="240.9" y1="560.90" x2="243.5" y2="560.90" stroke="#111" stroke-width="1"/>
<line x1="240.9" y1="554.97" x2="243.5" y2="554.97" stroke="#111" stroke-width="1"/>
<line x1="238.7" y1="549.05" x2="243.5" y2="549.05" stroke="#111" stroke-width="1.2"/>
<text transform="translate(236.90,553.10) scale(0.98,1.05)" text-anchor="end" font-family="Liberation Serif, serif" font-weight="bold" font-size="11.3" fill="#111">0.004</text>
<line x1="240.9" y1="543.12" x2="243.5" y2="543.12" stroke="#111" stroke-width="1"/>
<line x1="240.9" y1="537.20" x2="243.5" y2="537.20" stroke="#111" stroke-width="1"/>
<line x1="240.9" y1="531.27" x2="243.5" y2="531.27" stroke="#111" stroke-width="1"/>
<line x1="240.9" y1="525.35" x2="243.5" y2="525.35" stroke="#111" stroke-width="1"/>
<line x1="238.7" y1="519.42" x2="243.5" y2="519.42" stroke="#111" stroke-width="1.2"/>
<text transform="translate(236.90,523.47) scale(0.98,1.05)" text-anchor="end" font-family="Liberation Serif, serif" font-weight="bold" font-size="11.3" fill="#111">0.006</text>
<line x1="240.9" y1="513.50" x2="243.5" y2="513.50" stroke="#111" stroke-width="1"/>
<line x1="240.9" y1="507.57" x2="243.5" y2="507.57" stroke="#111" stroke-width="1"/>
<line x1="240.9" y1="501.65" x2="243.5" y2="501.65" stroke="#111" stroke-width="1"/>
<line x1="240.9" y1="495.72" x2="243.5" y2="495.72" stroke="#111" stroke-width="1"/>
<line x1="238.7" y1="489.80" x2="243.5" y2="489.80" stroke="#111" stroke-width="1.2"/>
<text transform="translate(236.90,493.85) scale(0.98,1.05)" text-anchor="end" font-family="Liberation Serif, serif" font-weight="bold" font-size="11.3" fill="#111">0.008</text>
<line x1="258.90" y1="608.3" x2="258.90" y2="611.3" stroke="#111" stroke-width="1.1"/>
<text transform="translate(262.30,620.90) rotate(-45)" text-anchor="end" font-family="Liberation Serif, serif" font-weight="bold" font-size="11.6" fill="#111">Control</text>
<line x1="281.10" y1="608.3" x2="281.10" y2="611.3" stroke="#111" stroke-width="1.1"/>
<text transform="translate(284.50,620.90) rotate(-45)" text-anchor="end" font-family="Liberation Serif, serif" font-weight="bold" font-size="11.6" fill="#111">APAP</text>
<line x1="303.50" y1="608.3" x2="303.50" y2="611.3" stroke="#111" stroke-width="1.1"/>
<text transform="translate(306.90,620.90) rotate(-45)" text-anchor="end" font-family="Liberation Serif, serif" font-weight="bold" font-size="11.6" fill="#111">APAP+NAC</text>
<line x1="325.50" y1="608.3" x2="325.50" y2="611.3" stroke="#111" stroke-width="1.1"/>
<text transform="translate(328.90,620.90) rotate(-45)" text-anchor="end" font-family="Liberation Serif, serif" font-weight="bold" font-size="11.6" fill="#111">APAP+HGyp-H</text>
<line x1="347.50" y1="608.3" x2="347.50" y2="611.3" stroke="#111" stroke-width="1.1"/>
<text transform="translate(350.90,620.90) rotate(-45)" text-anchor="end" font-family="Liberation Serif, serif" font-weight="bold" font-size="11.6" fill="#111">APAP+HGyp-L</text>
<text transform="translate(205.5,547.7) rotate(-90)" text-anchor="middle" font-family="Liberation Serif, serif" font-weight="bold" font-size="11.2" fill="#111">Lung index</text>
<text transform="translate(373.4,471.6) scale(0.92,1)" font-family="Liberation Serif, serif" font-size="17.6" fill="#111">G</text>
<line x1="440.50" y1="513.10" x2="440.50" y2="511.68" stroke="#707070" stroke-width="1.2"/>
<line x1="437.60" y1="511.98" x2="443.40" y2="511.98" stroke="#505050" stroke-width="1.4"/>
<rect x="433.60" y="513.70" width="13.80" height="96.30" fill="#abf2dc" stroke="#7eac9c" stroke-width="1.2"/>
<line x1="462.90" y1="514.10" x2="462.90" y2="511.50" stroke="#707070" stroke-width="1.2"/>
<line x1="460.00" y1="511.80" x2="465.80" y2="511.80" stroke="#505050" stroke-width="1.4"/>
<rect x="456.00" y="514.70" width="13.80" height="95.30" fill="#f2fbc2" stroke="#a3a688" stroke-width="1.2"/>
<line x1="484.90" y1="514.10" x2="484.90" y2="512.51" stroke="#707070" stroke-width="1.2"/>
<line x1="482.00" y1="512.81" x2="487.80" y2="512.81" stroke="#505050" stroke-width="1.4"/>
<rect x="478.00" y="514.70" width="13.80" height="95.30" fill="#fa9a3a" stroke="#c07832" stroke-width="1.2"/>
<line x1="506.90" y1="514.10" x2="506.90" y2="511.50" stroke="#707070" stroke-width="1.2"/>
<line x1="504.00" y1="511.80" x2="509.80" y2="511.80" stroke="#505050" stroke-width="1.4"/>
<rect x="500.00" y="514.70" width="13.80" height="95.30" fill="#f99c9c" stroke="#d08080" stroke-width="1.2"/>
<line x1="528.90" y1="512.51" x2="528.90" y2="510.09" stroke="#707070" stroke-width="1.2"/>
<line x1="526.00" y1="510.39" x2="531.80" y2="510.39" stroke="#505050" stroke-width="1.4"/>
<rect x="522.00" y="513.11" width="13.80" height="96.89" fill="#cdcdcd" stroke="#9c9c9c" stroke-width="1.2"/>
<line x1="425.9" y1="491.29999999999995" x2="425.9" y2="610.6" stroke="#111" stroke-width="1.3"/>
<line x1="425.29999999999995" y1="610.0" x2="544" y2="610.0" stroke="#111" stroke-width="1.3"/>
<line x1="421.09999999999997" y1="610.00" x2="425.9" y2="610.00" stroke="#111" stroke-width="1.2"/>
<text transform="translate(419.30,614.05) scale(0.98,1.05)" text-anchor="end" font-family="Liberation Serif, serif" font-weight="bold" font-size="11.3" fill="#111">0.000</text>
<line x1="423.29999999999995" y1="604.10" x2="425.9" y2="604.10" stroke="#111" stroke-width="1"/>
<line x1="423.29999999999995" y1="598.19" x2="425.9" y2="598.19" stroke="#111" stroke-width="1"/>
<line x1="423.29999999999995" y1="592.28" x2="425.9" y2="592.28" stroke="#111" stroke-width="1"/>
<line x1="423.29999999999995" y1="586.38" x2="425.9" y2="586.38" stroke="#111" stroke-width="1"/>
<line x1="421.09999999999997" y1="580.48" x2="425.9" y2="580.48" stroke="#111" stroke-width="1.2"/>
<text transform="translate(419.30,584.52) scale(0.98,1.05)" text-anchor="end" font-family="Liberation Serif, serif" font-weight="bold" font-size="11.3" fill="#111">0.005</text>
<line x1="423.29999999999995" y1="574.57" x2="425.9" y2="574.57" stroke="#111" stroke-width="1"/>
<line x1="423.29999999999995" y1="568.66" x2="425.9" y2="568.66" stroke="#111" stroke-width="1"/>
<line x1="423.29999999999995" y1="562.76" x2="425.9" y2="562.76" stroke="#111" stroke-width="1"/>
<line x1="423.29999999999995" y1="556.86" x2="425.9" y2="556.86" stroke="#111" stroke-width="1"/>
<line x1="421.09999999999997" y1="550.95" x2="425.9" y2="550.95" stroke="#111" stroke-width="1.2"/>
<text transform="translate(419.30,555.00) scale(0.98,1.05)" text-anchor="end" font-family="Liberation Serif, serif" font-weight="bold" font-size="11.3" fill="#111">0.010</text>
<line x1="423.29999999999995" y1="545.05" x2="425.9" y2="545.05" stroke="#111" stroke-width="1"/>
<line x1="423.29999999999995" y1="539.14" x2="425.9" y2="539.14" stroke="#111" stroke-width="1"/>
<line x1="423.29999999999995" y1="533.24" x2="425.9" y2="533.24" stroke="#111" stroke-width="1"/>
<line x1="423.29999999999995" y1="527.33" x2="425.9" y2="527.33" stroke="#111" stroke-width="1"/>
<line x1="421.09999999999997" y1="521.42" x2="425.9" y2="521.42" stroke="#111" stroke-width="1.2"/>
<text transform="translate(419.30,525.47) scale(0.98,1.05)" text-anchor="end" font-family="Liberation Serif, serif" font-weight="bold" font-size="11.3" fill="#111">0.015</text>
<line x1="423.29999999999995" y1="515.52" x2="425.9" y2="515.52" stroke="#111" stroke-width="1"/>
<line x1="423.29999999999995" y1="509.61" x2="425.9" y2="509.61" stroke="#111" stroke-width="1"/>
<line x1="423.29999999999995" y1="503.71" x2="425.9" y2="503.71" stroke="#111" stroke-width="1"/>
<line x1="423.29999999999995" y1="497.80" x2="425.9" y2="497.80" stroke="#111" stroke-width="1"/>
<line x1="421.09999999999997" y1="491.90" x2="425.9" y2="491.90" stroke="#111" stroke-width="1.2"/>
<text transform="translate(419.30,495.95) scale(0.98,1.05)" text-anchor="end" font-family="Liberation Serif, serif" font-weight="bold" font-size="11.3" fill="#111">0.020</text>
<line x1="440.50" y1="610.0" x2="440.50" y2="613.0" stroke="#111" stroke-width="1.1"/>
<text transform="translate(443.90,622.60) rotate(-45)" text-anchor="end" font-family="Liberation Serif, serif" font-weight="bold" font-size="11.6" fill="#111">Control</text>
<line x1="462.90" y1="610.0" x2="462.90" y2="613.0" stroke="#111" stroke-width="1.1"/>
<text transform="translate(466.30,622.60) rotate(-45)" text-anchor="end" font-family="Liberation Serif, serif" font-weight="bold" font-size="11.6" fill="#111">APAP</text>
<line x1="484.90" y1="610.0" x2="484.90" y2="613.0" stroke="#111" stroke-width="1.1"/>
<text transform="translate(488.30,622.60) rotate(-45)" text-anchor="end" font-family="Liberation Serif, serif" font-weight="bold" font-size="11.6" fill="#111">APAP+NAC</text>
<line x1="506.90" y1="610.0" x2="506.90" y2="613.0" stroke="#111" stroke-width="1.1"/>
<text transform="translate(510.30,622.60) rotate(-45)" text-anchor="end" font-family="Liberation Serif, serif" font-weight="bold" font-size="11.6" fill="#111">APAP+HGyp-H</text>
<line x1="528.90" y1="610.0" x2="528.90" y2="613.0" stroke="#111" stroke-width="1.1"/>
<text transform="translate(532.30,622.60) rotate(-45)" text-anchor="end" font-family="Liberation Serif, serif" font-weight="bold" font-size="11.6" fill="#111">APAP+HGyp-L</text>
<text transform="translate(387.8,549.8) rotate(-90)" text-anchor="middle" font-family="Liberation Serif, serif" font-weight="bold" font-size="11.2" fill="#111">Kidney index</text>
</svg>
</body></html>
